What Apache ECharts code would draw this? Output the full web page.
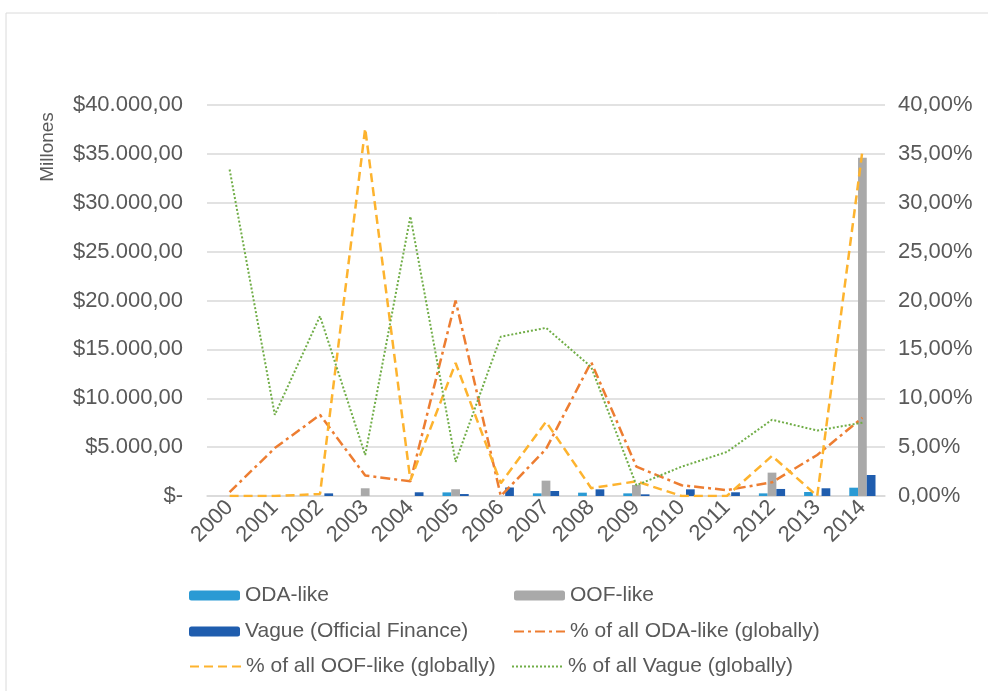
<!DOCTYPE html>
<html>
<head>
<meta charset="utf-8">
<title>ODA / OOF / Vague</title>
<script src="https://cdn.jsdelivr.net/npm/echarts@6/dist/echarts.min.js"></script>
<style>
  html, body { margin: 0; padding: 0; background: #fff; }
  #chart { width: 988px; height: 691px; }
</style>
</head>
<body>
<div id="chart"></div>
<script>
// years on the x axis
var years = ['2000', '2001', '2002', '2003', '2004', '2005', '2006', '2007',
             '2008', '2009', '2010', '2011', '2012', '2013', '2014'];

// bars, millions of dollars (left axis)
var odaLike = [0, 0, 0, 0, 0, 370, 0, 270, 340, 270, 0, 0, 270, 410, 850];
var oofLike = [0, 0, 0, 790, 0, 690, 0, 1570, 0, 1130, 0, 0, 2390, 0, 34600];
var vagueOF = [0, 0, 270, 0, 380, 200, 870, 510, 680, 170, 680, 380, 720, 790, 2150];

// lines, share of global total in % (right axis)
var odaPct = [0.4, 4.9, 8.3, 2.1, 1.5, 20.0, 0.0, 4.8, 13.7, 3.0, 1.1, 0.6, 1.4, 4.2, 8.0];
var oofPct = [0, 0, 0.2, 37.6, 1.6, 13.6, 1.3, 7.6, 0.8, 1.5, 0, 0, 4.1, 0, 35.3];
var vaguePct = [33.4, 8.3, 18.4, 4.2, 28.6, 3.5, 16.3, 17.2, 13.2, 1.1, 3.0, 4.5, 7.8, 6.7, 7.5];

var names = ['ODA-like', 'OOF-like', 'Vague (Official Finance)',
             '% of all ODA-like (globally)', '% of all OOF-like (globally)', '% of all Vague (globally)'];

var txt = '#595959';
var font = 'Liberation Sans, Arial, sans-serif';

// $40.000,00 style
function money(v) {
    if (v === 0) return '$-';
    var s = String(Math.round(v)).replace(/\B(?=(\d{3})+(?!\d))/g, '.');
    return '$' + s + ',00';
}

function pct(v) {
    return v.toFixed(2).replace('.', ',') + '%';
}

// one legend per item, placed like the excel legend
// isLine: hide the symbol dot, keep only the dashed line
function legendAt(name, left, top, isLine) {
    var lg = {
        data: [name],
        left: left,
        top: top,
        itemWidth: 51,
        itemHeight: 10,
        itemGap: 0,
        selectedMode: false,
        textStyle: { color: txt, fontSize: 21, fontFamily: font }
    };
    if (isLine) {
        lg.itemStyle = { opacity: 0 };
    }
    return lg;
}

var myChart = echarts.init(document.getElementById('chart'));

var option = {
    animation: false,
    backgroundColor: '#fff',
    graphic: [
        {
            type: 'rect',
            shape: { x: 6, y: 13, width: 1000, height: 700 },
            style: { fill: 'none', stroke: '#DADADA', lineWidth: 1 }
        },
        {
            type: 'text',
            x: 48,
            y: 147,
            rotation: Math.PI / 2,
            style: {
                text: 'Millones', fill: txt, fontSize: 19, fontFamily: font,
                align: 'center', verticalAlign: 'middle'
            }
        }
    ],
    legend: [
        legendAt(names[0], 184, 580),
        legendAt(names[1], 509, 580),
        legendAt(names[2], 184, 616),
        legendAt(names[3], 508, 616, true),
        legendAt(names[4], 184, 651, true),
        legendAt(names[5], 506, 651, true)
    ],
    grid: { left: 207, right: 103, top: 105, bottom: 195 },
    xAxis: {
        type: 'category',
        data: years,
        axisTick: { show: false },
        axisLine: { lineStyle: { color: '#D9D9D9', width: 1.5 } },
        axisLabel: { color: txt, fontSize: 22, fontFamily: font, rotate: 45, margin: 8 }
    },
    yAxis: [
        {
            type: 'value',
            min: 0,
            max: 40000,
            interval: 5000,
            axisLine: { show: false },
            axisTick: { show: false },
            splitLine: { lineStyle: { color: '#D9D9D9', width: 1.5 } },
            axisLabel: { color: txt, fontSize: 22, fontFamily: font, margin: 24, formatter: money }
        },
        {
            type: 'value',
            min: 0,
            max: 40,
            interval: 5,
            axisLine: { show: false },
            axisTick: { show: false },
            splitLine: { show: false },
            axisLabel: { color: txt, fontSize: 22, fontFamily: font, margin: 13, formatter: pct }
        }
    ],
    series: [
        { name: names[0], type: 'bar', data: odaLike, barGap: '0%', barCategoryGap: '42%',
          itemStyle: { color: '#2A9AD4' } },
        { name: names[1], type: 'bar', data: oofLike, itemStyle: { color: '#A9A9A9' } },
        { name: names[2], type: 'bar', data: vagueOF, itemStyle: { color: '#1F5DAE' } },
        { name: names[3], type: 'line', yAxisIndex: 1, data: odaPct, symbol: 'none',
          itemStyle: { color: '#ED7D31' },
          lineStyle: { color: '#ED7D31', width: 2.5, type: [10, 4, 3, 4] } },
        { name: names[4], type: 'line', yAxisIndex: 1, data: oofPct, symbol: 'none',
          itemStyle: { color: '#FDB32E' },
          lineStyle: { color: '#FDB32E', width: 2.5, type: [9, 5] } },
        { name: names[5], type: 'line', yAxisIndex: 1, data: vaguePct, symbol: 'none',
          itemStyle: { color: '#70AD47' },
          lineStyle: { color: '#70AD47', width: 2, type: [2, 2] } }
    ]
};

myChart.setOption(option);
</script>
</body>
</html>
